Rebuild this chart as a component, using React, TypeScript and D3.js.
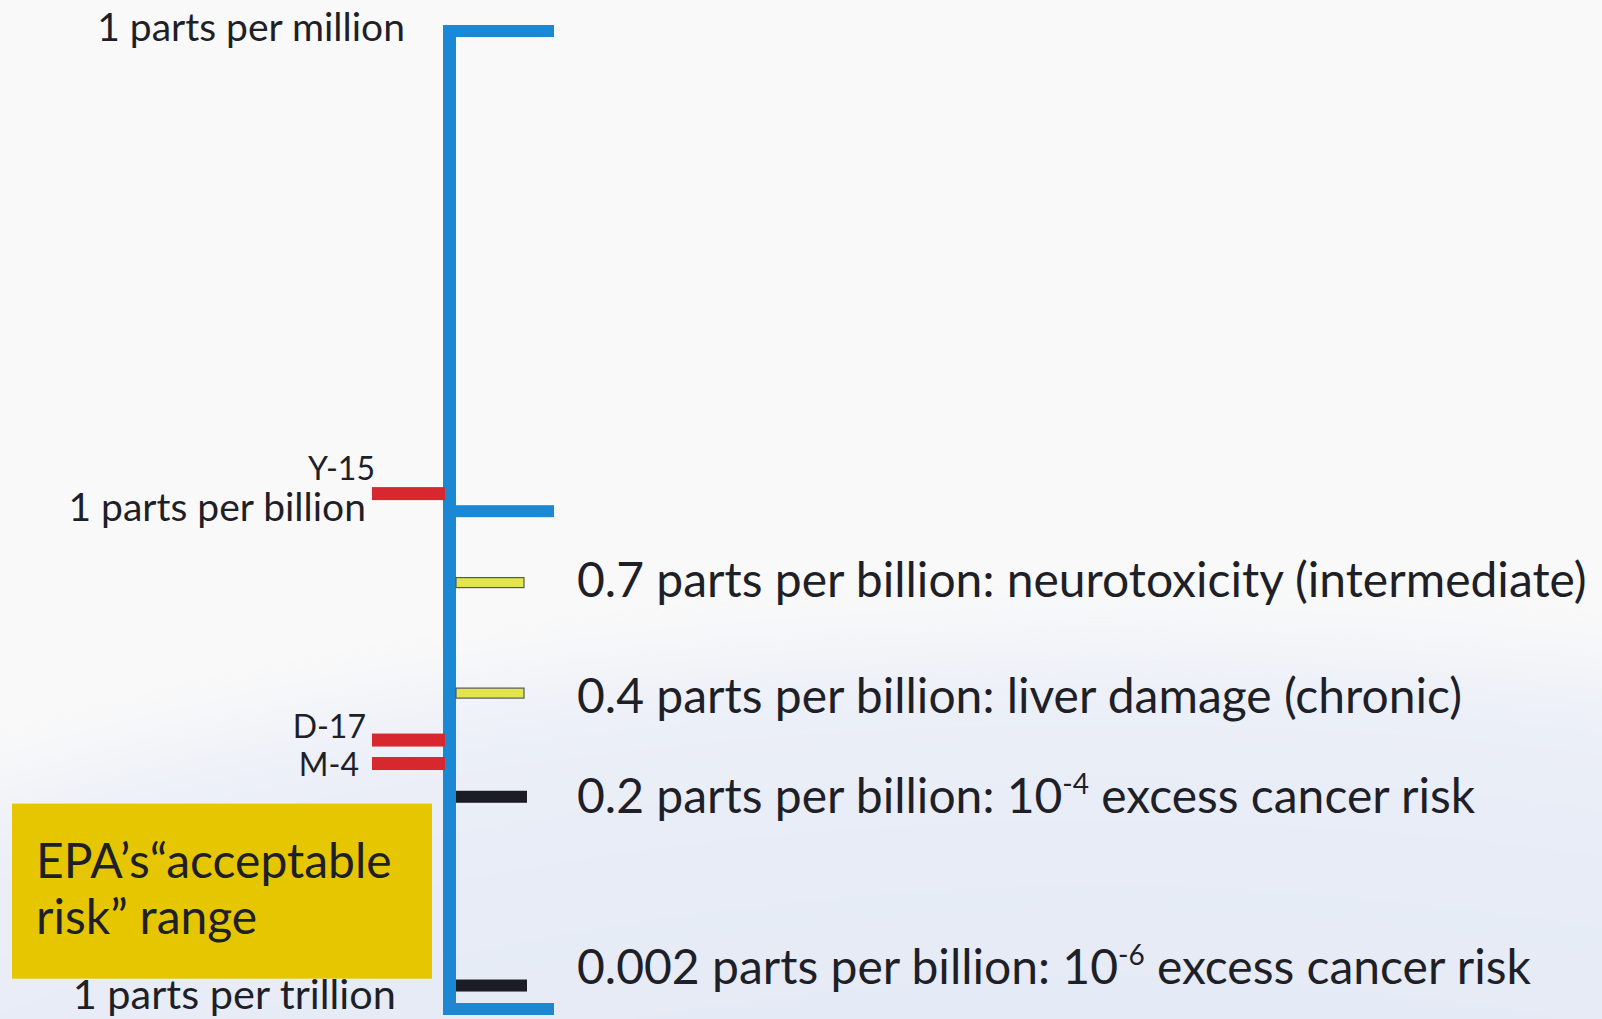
import * as d3 from "d3";

const W = 1602;
const H = 1019;

// schematic position along the scale: 0 = 1 ppm (top), 100 = 1 ppt (bottom)
const AXIS_LABELS = ["1 parts per million", "1 parts per billion", "1 parts per trillion"];
const AXIS_LEVELS = [0, 49.1, 100];

const SAMPLE_NAMES = ["Y-15", "D-17", "M-4"];
const SAMPLE_LEVELS = [47.3, 72.5, 74.9];

const THRESHOLD_VALUES = ["0.7", "0.4", "0.2", "0.002"];
const THRESHOLD_EFFECTS = [
  "neurotoxicity (intermediate)",
  "liver damage (chronic)",
  "10^-4 excess cancer risk",
  "10^-6 excess cancer risk",
];
const THRESHOLD_LEVELS = [56.4, 67.7, 78.3, 97.6];
const THRESHOLD_KINDS = ["noncancer", "noncancer", "cancer", "cancer"];

const RANGE_LABEL = ["EPA\u2019s\u201cacceptable", "risk\u201d range"];
const RANGE_LEVELS = [79.0, 96.9];

const BLUE = "#1c87d2";
const RED = "#d8282f";
const INK = "#1f1f28";
const FONT = "Lato, 'Open Sans', sans-serif";

// label nudges (layout only)
const AXIS_LABEL_X = [405, 366, 396];
const AXIS_LABEL_SIZE = [39, 39, 41.5];
const SAMPLE_LABEL_X = [375, 366, 359];
const SAMPLE_DY = [-13.5, -2, 12.5];
const THRESH_DY = [14, 20, 16, -2];

function Effect({ text }: { text: string }) {
  const m = text.match(/^(\d+)\^(-\d+)(.*)$/);
  if (!m) return <tspan>{text}</tspan>;
  return (
    <>
      <tspan>{m[1]}</tspan>
      <tspan dy={-19} fontSize={28}>{m[2]}</tspan>
      <tspan dy={19}>{m[3]}</tspan>
    </>
  );
}

export default function App() {
  const y = d3.scaleLinear().domain([0, 100]).range([31, 1009]);
  const axisX = 443;
  const axisW = 13;

  return (
    <svg
      width={W}
      height={H}
      style={{ position: "absolute", left: 0, top: 0, display: "block" }}
      fontFamily={FONT}
    >
      <defs>
        <filter id="soft" x="-20%" y="-20%" width="140%" height="140%">
          <feGaussianBlur stdDeviation="35" />
        </filter>
        <radialGradient id="tint" cx="0.5" cy="0.5" r="0.5">
          <stop offset="0%" stopColor="#dfe6f4" />
          <stop offset="80%" stopColor="#e7ecf7" />
          <stop offset="100%" stopColor="#eef1f8" />
        </radialGradient>
      </defs>
      <rect width={W} height={H} fill="#f9f9f9" />
      <ellipse cx={1100} cy={1540} rx={2000} ry={900} fill="url(#tint)" filter="url(#soft)" />

      {/* acceptable risk box */}
      <rect
        x={12}
        y={y(RANGE_LEVELS[0])}
        width={420}
        height={y(RANGE_LEVELS[1]) - y(RANGE_LEVELS[0])}
        fill="#e5c600"
      />
      {RANGE_LABEL.map((t, i) => (
        <text key={t} x={36} y={y(RANGE_LEVELS[0]) + 74 + i * 56} fontSize={48} fill={INK}>
          {t}
        </text>
      ))}

      {/* main axis */}
      <rect x={axisX} y={y(0) - 6} width={axisW} height={y(100) - y(0) + 12} fill={BLUE} />
      {AXIS_LEVELS.map((l, i) => (
        <g key={AXIS_LABELS[i]}>
          <rect x={axisX} y={y(l) - 6} width={111} height={12} fill={BLUE} />
          <text
            x={AXIS_LABEL_X[i]}
            y={Math.min(y(l) + 10, H - 10)}
            textAnchor="end"
            fontSize={AXIS_LABEL_SIZE[i]}
            fill={INK}
          >
            {AXIS_LABELS[i]}
          </text>
        </g>
      ))}

      {/* measured samples */}
      {SAMPLE_LEVELS.map((l, i) => (
        <g key={SAMPLE_NAMES[i]}>
          <rect x={372} y={y(l) - 6.5} width={73} height={13} fill={RED} />
          <text
            x={SAMPLE_LABEL_X[i]}
            y={y(l) + SAMPLE_DY[i]}
            textAnchor="end"
            fontSize={32}
            fill={INK}
          >
            {SAMPLE_NAMES[i]}
          </text>
        </g>
      ))}

      {/* health thresholds */}
      {THRESHOLD_LEVELS.map((l, i) => {
        const cancer = THRESHOLD_KINDS[i] === "cancer";
        return (
          <g key={THRESHOLD_VALUES[i]}>
            <rect
              x={456}
              y={y(l) - (cancer ? 6 : 5)}
              width={cancer ? 71 : 68}
              height={cancer ? 12 : 10}
              fill={cancer ? "#1c1c26" : "#e4e54e"}
              stroke={cancer ? "none" : "#4d5a66"}
              strokeWidth={1.2}
            />
            <text x={577} y={y(l) + THRESH_DY[i]} fontSize={48} fill={INK}>
              <tspan>{`${THRESHOLD_VALUES[i]} parts per billion: `}</tspan>
              <Effect text={THRESHOLD_EFFECTS[i]} />
            </text>
          </g>
        );
      })}
    </svg>
  );
}
